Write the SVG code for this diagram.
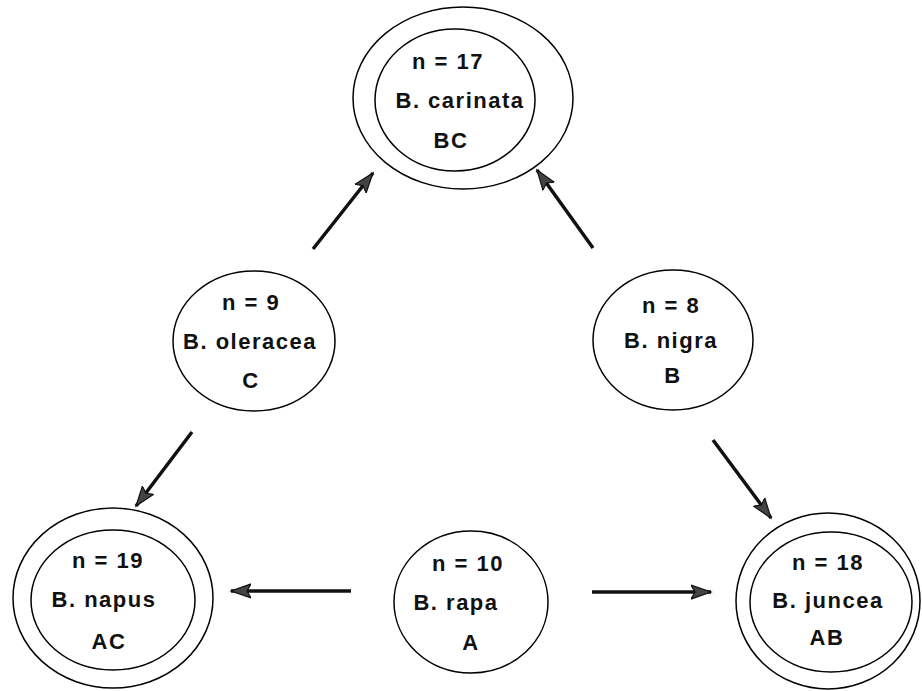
<svg xmlns="http://www.w3.org/2000/svg" width="922" height="691" viewBox="0 0 922 691">
<style>
  .ring { fill: none; stroke: #000; stroke-width: 1.5; }
  .lbl { font-family: "Liberation Sans", Arial, sans-serif; font-weight: bold; font-size: 22px; letter-spacing: 1.5px; fill: #111; text-anchor: middle; }
  .edge { stroke: #111; stroke-width: 3.5; fill: none; marker-end: url(#ah); }
</style>
<defs>
  <marker id="ah" markerUnits="userSpaceOnUse" markerWidth="22" markerHeight="16" refX="20" refY="8" orient="auto">
    <path d="M0,1 L20,8 L0,15 L4,8 z" fill="#444" stroke="#111" stroke-width="1.2"/>
  </marker>
</defs>
<rect width="922" height="691" fill="#fff"/>
<g id="connectors">
  <line class="edge" x1="313" y1="249" x2="373" y2="173"/>
  <line class="edge" x1="593" y1="248" x2="537" y2="170"/>
  <line class="edge" x1="713" y1="440" x2="771" y2="518"/>
  <line class="edge" x1="192" y1="432" x2="136" y2="506"/>
  <line class="edge" x1="351" y1="591" x2="231" y2="591"/>
  <line class="edge" x1="592" y1="592" x2="711" y2="592"/>
</g>
<g id="carinata">
  <ellipse class="ring" cx="463" cy="98" rx="110" ry="91"/>
  <ellipse class="ring" cx="455" cy="100" rx="80" ry="71"/>
  <text class="lbl" x="448" y="69">n = 17</text>
  <text class="lbl" x="460" y="108">B. carinata</text>
  <text class="lbl" x="451" y="148">BC</text>
</g>
<g id="oleracea">
  <ellipse class="ring" cx="254" cy="341" rx="81" ry="70"/>
  <text class="lbl" x="251" y="310">n = 9</text>
  <text class="lbl" x="250" y="349">B. oleracea</text>
  <text class="lbl" x="251" y="388">C</text>
</g>
<g id="nigra">
  <ellipse class="ring" cx="673" cy="340" rx="80" ry="70"/>
  <text class="lbl" x="671" y="313">n = 8</text>
  <text class="lbl" x="671" y="348">B. nigra</text>
  <text class="lbl" x="673" y="383">B</text>
</g>
<g id="napus">
  <ellipse class="ring" cx="113" cy="598" rx="100" ry="90"/>
  <ellipse class="ring" cx="113" cy="600" rx="82" ry="70"/>
  <text class="lbl" x="108" y="568">n = 19</text>
  <text class="lbl" x="104" y="607">B. napus</text>
  <text class="lbl" x="109" y="649">AC</text>
</g>
<g id="rapa">
  <ellipse class="ring" cx="471" cy="602" rx="77" ry="71"/>
  <text class="lbl" x="468" y="571">n = 10</text>
  <text class="lbl" x="456" y="610">B. rapa</text>
  <text class="lbl" x="471" y="650">A</text>
</g>
<g id="juncea">
  <ellipse class="ring" cx="828" cy="601" rx="92" ry="88"/>
  <ellipse class="ring" cx="831" cy="602" rx="81" ry="70"/>
  <text class="lbl" x="828" y="570">n = 18</text>
  <text class="lbl" x="828" y="608">B. juncea</text>
  <text class="lbl" x="827" y="645">AB</text>
</g>
</svg>
